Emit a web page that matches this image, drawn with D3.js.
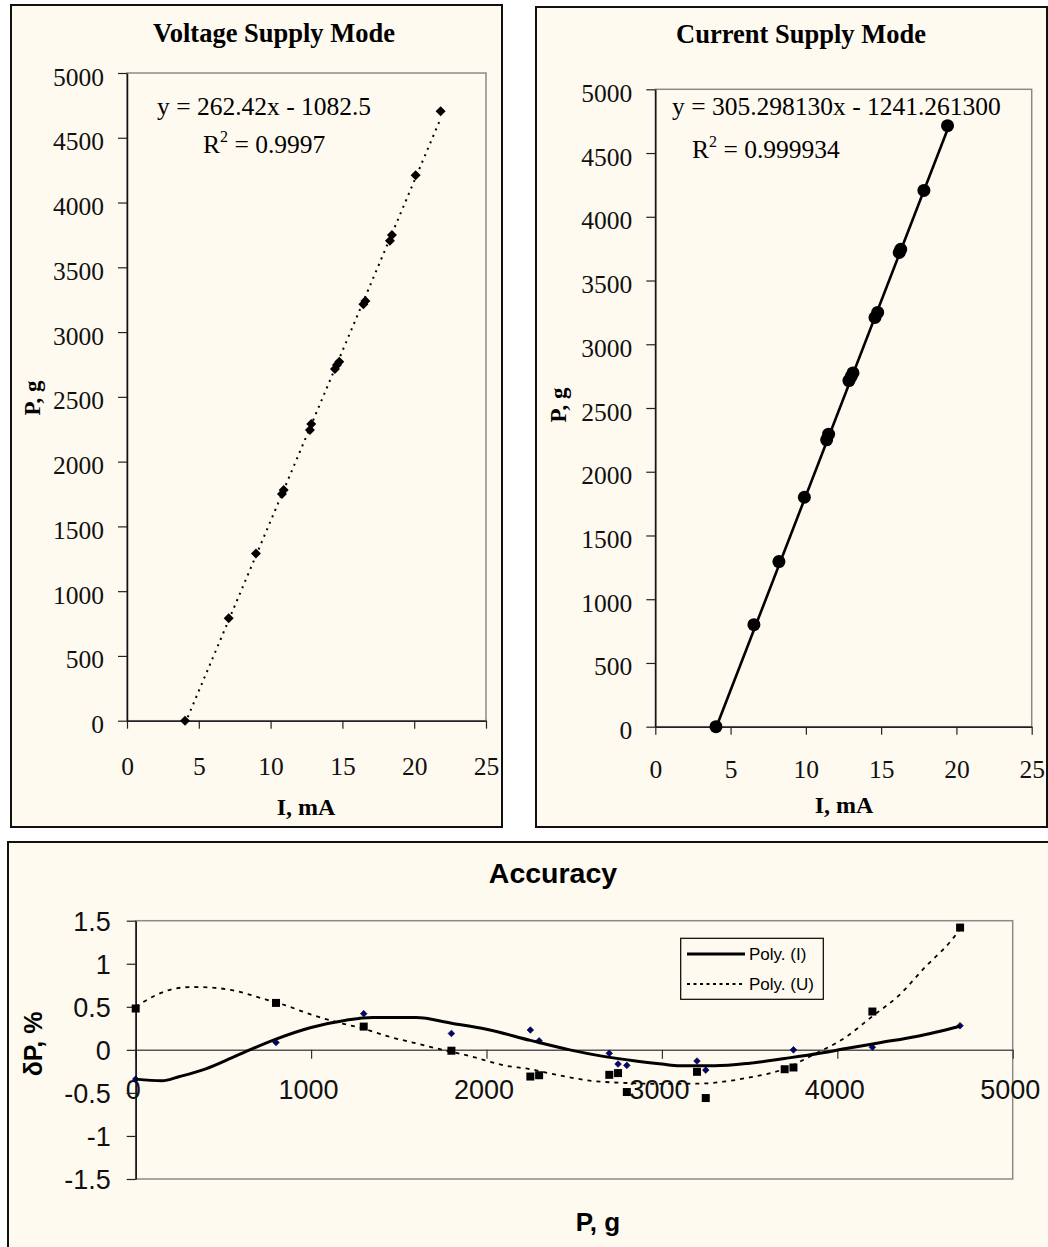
<!DOCTYPE html>
<html>
<head>
<meta charset="utf-8">
<script src="https://cdn.jsdelivr.net/npm/d3@7"></script>
<style>
  body { margin: 0; background: #ffffff; }
  .serif text { font-family: "Liberation Serif", "Times New Roman", serif; }
  .sans text { font-family: "Liberation Sans", Arial, sans-serif; }
</style>
</head>
<body>
<div id="my_dataviz"></div>
<script>
// voltage supply mode: current (mA) vs load (g)
var voltCurrent = [4.04, 7.08, 8.98, 10.79, 10.91, 12.74, 12.83, 14.48, 14.62, 14.78, 16.46, 16.6, 18.31, 18.45, 20.1, 21.84];
var voltLoad = [0, 790, 1290, 1750, 1780, 2245, 2290, 2715, 2745, 2770, 3215, 3240, 3705, 3750, 4210, 4705];
var voltSlope = 262.42, voltIntercept = -1082.5;

// current supply mode
var currCurrent = [4.03, 6.55, 8.21, 9.9, 11.38, 11.51, 12.86, 13.0, 13.13, 14.59, 14.77, 16.2, 16.3, 17.84, 19.41];
var currLoad = [0, 800, 1295, 1800, 2250, 2295, 2715, 2745, 2775, 3210, 3250, 3720, 3745, 4207, 4715];
var currSlope = 305.29813, currIntercept = -1241.2613;

// accuracy: error in % for both modes
var errLoadI = [0, 800, 1300, 1800, 2250, 2300, 2700, 2750, 2800, 3200, 3250, 3750, 4200, 4700];
var errI = [-0.34, 0.085, 0.42, 0.19, 0.23, 0.105, -0.04, -0.165, -0.18, -0.13, -0.235, 0.0, 0.03, 0.28];
var errLoadU = [0, 800, 1300, 1800, 2250, 2300, 2700, 2750, 2800, 3200, 3250, 3700, 3750, 4200, 4700];
var errU = [0.48, 0.545, 0.27, -0.01, -0.31, -0.295, -0.29, -0.27, -0.49, -0.255, -0.56, -0.225, -0.205, 0.445, 1.42];

// polynomial trend lines
var polyLoadI = [0, 150, 250, 400, 550, 650, 800, 1000, 1200, 1350, 1600, 1800, 2000, 2250, 2475, 2650, 2850, 3000, 3100, 3300, 3500, 3700, 3900, 4050, 4250, 4450, 4700];
var polyI = [-0.34, -0.36, -0.31, -0.22, -0.09, 0.0, 0.125, 0.26, 0.345, 0.375, 0.375, 0.31, 0.24, 0.11, 0.0, -0.07, -0.13, -0.165, -0.185, -0.185, -0.155, -0.1, -0.04, 0.015, 0.085, 0.155, 0.275];
var polyLoadU = [0, 100, 200, 320, 450, 570, 700, 850, 1000, 1150, 1300, 1450, 1600, 1750, 1900, 2100, 2250, 2400, 2600, 2800, 3000, 3250, 3350, 3500, 3700, 3850, 4050, 4200, 4350, 4500, 4650, 4700];
var polyU = [0.5, 0.62, 0.7, 0.73, 0.72, 0.685, 0.61, 0.52, 0.41, 0.32, 0.245, 0.15, 0.075, 0.0, -0.07, -0.18, -0.225, -0.29, -0.36, -0.385, -0.395, -0.39, -0.37, -0.32, -0.22, -0.07, 0.15, 0.39, 0.63, 0.96, 1.27, 1.4];

var ticksCurrent = [0, 5, 10, 15, 20, 25];
var ticksLoad = [0, 500, 1000, 1500, 2000, 2500, 3000, 3500, 4000, 4500, 5000];
var ticksLoadAcc = [0, 1000, 2000, 3000, 4000, 5000];
var ticksErr = [-1.5, -1, -0.5, 0, 0.5, 1, 1.5];

var cream = "#fffaf0";

var svg = d3
  .select("#my_dataviz")
  .append("svg")
  .attr("id", "svg")
  .attr("width", 1048)
  .attr("height", 1247);

function zip(a, b) {
  return a.map(function (d, i) {
    return [d, b[i]];
  });
}

// one of the two calibration charts on top
function buildCalib(o) {
  var g = svg.append("g").attr("class", "serif");

  g.append("rect")
    .attr("x", o.box[0])
    .attr("y", o.box[1])
    .attr("width", o.box[2] - o.box[0])
    .attr("height", o.box[3] - o.box[1])
    .attr("fill", cream)
    .attr("stroke", "#111")
    .attr("stroke-width", 2);

  var x = d3.scaleLinear().domain([0, 25]).range([o.plot[0], o.plot[2]]);
  var y = d3.scaleLinear().domain([0, 5000]).range([o.plot[3], o.plot[1]]);

  // plot area border
  g.append("rect")
    .attr("x", o.plot[0])
    .attr("y", o.plot[1])
    .attr("width", o.plot[2] - o.plot[0])
    .attr("height", o.plot[3] - o.plot[1])
    .attr("fill", "none")
    .attr("stroke", "#8a8a8a")
    .attr("stroke-width", 1.5);

  var ax = g
    .append("g")
    .attr("transform", "translate(0," + y(0) + ")")
    .call(d3.axisBottom(x).tickValues(ticksCurrent).tickSize(8).tickSizeOuter(0).tickFormat(d3.format("d")));
  ax.select(".domain").attr("stroke", "#222").attr("stroke-width", 1.5);
  ax.selectAll("line").attr("stroke", "#222").attr("stroke-width", 1.2);
  ax.selectAll("text")
    .attr("y", o.xLabelDy)
    .attr("dy", null)
    .attr("fill", "#111")
    .style("font-size", "25.5px");

  var ay = g
    .append("g")
    .attr("transform", "translate(" + x(0) + ",0)")
    .call(d3.axisLeft(y).tickValues(ticksLoad).tickSize(9).tickSizeOuter(0).tickPadding(14).tickFormat(d3.format("d")));
  ay.select(".domain").attr("stroke", "#111").attr("stroke-width", 1.5);
  ay.selectAll("line").attr("stroke", "#222").attr("stroke-width", 1.2);
  ay.selectAll("text")
    .attr("dy", "0.47em")
    .attr("fill", "#111")
    .style("font-size", "25.5px");

  // titles
  g.append("text")
    .attr("x", o.title[0])
    .attr("y", o.title[1])
    .attr("text-anchor", "middle")
    .style("font-size", "26.5px")
    .style("font-weight", "bold")
    .text(o.titleText);

  g.append("text")
    .attr("x", o.xTitle[0])
    .attr("y", o.xTitle[1])
    .attr("text-anchor", "middle")
    .style("font-size", "24px")
    .style("font-weight", "bold")
    .text("I, mA");

  g.append("text")
    .attr("transform", "translate(" + o.yTitle[0] + "," + o.yTitle[1] + ")rotate(-90)")
    .attr("text-anchor", "middle")
    .style("font-size", "23px")
    .style("font-weight", "bold")
    .text("P, g");

  // trend line
  var i0 = d3.min(o.xs), i1 = d3.max(o.xs);
  g.append("path")
    .datum([i0, i1])
    .attr("fill", "none")
    .attr("stroke", "#000")
    .attr("stroke-width", o.lineWidth)
    .attr("stroke-dasharray", o.dash)
    .attr("d", d3.line()
      .x(function (d) { return x(d); })
      .y(function (d) { return y(o.slope * d + o.intercept); }));

  // points
  if (o.marker == "diamond") {
    g.selectAll(".pt")
      .data(zip(o.xs, o.ys))
      .enter()
      .append("path")
      .attr("class", "pt")
      .attr("d", d3.symbol(d3.symbolSquare, 50))
      .attr("transform", function (d) {
        return "translate(" + x(d[0]) + "," + y(d[1]) + ")rotate(45)";
      })
      .attr("fill", "#000");
  } else {
    g.selectAll(".pt")
      .data(zip(o.xs, o.ys))
      .enter()
      .append("circle")
      .attr("class", "pt")
      .attr("cx", function (d) { return x(d[0]); })
      .attr("cy", function (d) { return y(d[1]); })
      .attr("r", 6.5)
      .attr("fill", "#000");
  }

  // equation and R^2
  g.append("text")
    .attr("x", o.eq[0])
    .attr("y", o.eq[1])
    .style("font-size", "25.5px")
    .text(o.eqText);

  var r2 = g.append("text")
    .attr("x", o.r2[0])
    .attr("y", o.r2[1])
    .style("font-size", "25.5px");
  r2.append("tspan").text("R");
  r2.append("tspan").attr("dy", -11).style("font-size", "16px").text("2");
  r2.append("tspan").attr("dy", 11).text(" = " + o.r2Text);
}

buildCalib({
  box: [11, 5, 502, 827],
  plot: [127, 73, 486, 720.7],
  xLabelDy: 54,
  titleText: "Voltage Supply Mode",
  title: [274, 42],
  xTitle: [306, 815],
  yTitle: [40, 398],
  xs: voltCurrent,
  ys: voltLoad,
  slope: voltSlope,
  intercept: voltIntercept,
  lineWidth: 2,
  dash: "2,5",
  marker: "diamond",
  eqText: "y = 262.42x - 1082.5",
  eq: [157, 115],
  r2Text: "0.9997",
  r2: [203, 153]
});

buildCalib({
  box: [536, 7, 1047, 827],
  plot: [655.3, 89.3, 1031.7, 726.7],
  xLabelDy: 51,
  titleText: "Current Supply Mode",
  title: [801, 43],
  xTitle: [844, 813],
  yTitle: [566, 405],
  xs: currCurrent,
  ys: currLoad,
  slope: currSlope,
  intercept: currIntercept,
  lineWidth: 2.6,
  dash: null,
  marker: "circle",
  eqText: "y = 305.298130x - 1241.261300",
  eq: [672, 115],
  r2Text: "0.999934",
  r2: [692, 158]
});

// accuracy chart
var acc = svg.append("g").attr("class", "sans");

acc.append("rect")
  .attr("x", 8)
  .attr("y", 842)
  .attr("width", 1100)
  .attr("height", 500)
  .attr("fill", cream)
  .attr("stroke", "#111")
  .attr("stroke-width", 2);

var xA = d3.scaleLinear().domain([0, 5000]).range([135.7, 1012.7]);
var yA = d3.scaleLinear().domain([-1.5, 1.5]).range([1179, 920.7]);

acc.append("rect")
  .attr("x", xA(0))
  .attr("y", yA(1.5))
  .attr("width", xA(5000) - xA(0))
  .attr("height", yA(-1.5) - yA(1.5))
  .attr("fill", "none")
  .attr("stroke", "#8a8a8a")
  .attr("stroke-width", 1.5);

var axA = acc
  .append("g")
  .attr("transform", "translate(0," + yA(0) + ")")
  .call(d3.axisBottom(xA).tickValues(ticksLoadAcc).tickSize(9).tickSizeOuter(0).tickFormat(d3.format("d")));
axA.select(".domain").attr("stroke", "#555").attr("stroke-width", 1.5);
axA.selectAll("line").attr("stroke", "#333").attr("stroke-width", 1.2);
axA.selectAll("text")
  .attr("y", 49)
  .attr("dy", null)
  .attr("x", -3)
  .attr("fill", "#111")
  .style("font-size", "27px");

var ayA = acc
  .append("g")
  .attr("transform", "translate(" + xA(0) + ",0)")
  .call(d3.axisLeft(yA).tickValues(ticksErr).tickSize(9).tickSizeOuter(0).tickPadding(16).tickFormat(function (d) { return String(d); }));
ayA.select(".domain").attr("stroke", "#111").attr("stroke-width", 1.5);
ayA.selectAll("line").attr("stroke", "#222").attr("stroke-width", 1.2);
ayA.selectAll("text")
  .attr("dy", "0.35em")
  .attr("fill", "#111")
  .style("font-size", "27px");

acc.append("text")
  .attr("x", 553)
  .attr("y", 883)
  .attr("text-anchor", "middle")
  .style("font-size", "28.5px")
  .style("font-weight", "bold")
  .text("Accuracy");

acc.append("text")
  .attr("x", 598)
  .attr("y", 1231)
  .attr("text-anchor", "middle")
  .style("font-size", "26px")
  .style("font-weight", "bold")
  .text("P, g");

acc.append("text")
  .attr("transform", "translate(42,1044)rotate(-90)")
  .attr("text-anchor", "middle")
  .style("font-size", "25px")
  .style("font-weight", "bold")
  .text("δP, %");

// markers
acc.selectAll(".sq")
  .data(zip(errLoadU, errU))
  .enter()
  .append("path")
  .attr("class", "sq")
  .attr("d", d3.symbol(d3.symbolSquare, 64))
  .attr("transform", function (d) {
    return "translate(" + xA(d[0]) + "," + yA(d[1]) + ")";
  })
  .attr("fill", "#000");

acc.selectAll(".dm")
  .data(zip(errLoadI, errI))
  .enter()
  .append("path")
  .attr("class", "dm")
  .attr("d", d3.symbol(d3.symbolSquare, 22))
  .attr("transform", function (d) {
    return "translate(" + xA(d[0]) + "," + yA(d[1]) + ")rotate(45)";
  })
  .attr("fill", "#000080")
  .attr("stroke", "#000")
  .attr("stroke-width", 0.6);

var trend = d3.line()
  .curve(d3.curveMonotoneX)
  .x(function (d) { return xA(d[0]); })
  .y(function (d) { return yA(d[1]); });

acc.append("path")
  .datum(zip(polyLoadU, polyU))
  .attr("fill", "none")
  .attr("stroke", "#000")
  .attr("stroke-width", 1.8)
  .attr("stroke-dasharray", "4,5")
  .attr("d", trend);

acc.append("path")
  .datum(zip(polyLoadI, polyI))
  .attr("fill", "none")
  .attr("stroke", "#000")
  .attr("stroke-width", 3)
  .attr("d", trend);

// legend
var leg = acc.append("g");
leg.append("rect")
  .attr("x", 680.7)
  .attr("y", 938.3)
  .attr("width", 142.6)
  .attr("height", 61)
  .attr("fill", cream)
  .attr("stroke", "#000")
  .attr("stroke-width", 1.2);

var legItems = [
  { label: "Poly. (I)", dash: null, w: 3 },
  { label: "Poly. (U)", dash: "3,3.5", w: 2 }
];
legItems.forEach(function (d, i) {
  var ly = 954 + i * 30;
  leg.append("line")
    .attr("x1", 687)
    .attr("x2", 745)
    .attr("y1", ly)
    .attr("y2", ly)
    .attr("stroke", "#000")
    .attr("stroke-width", d.w)
    .attr("stroke-dasharray", d.dash);
  leg.append("text")
    .attr("x", 749)
    .attr("y", ly)
    .attr("dy", "0.36em")
    .style("font-size", "17px")
    .text(d.label);
});
</script>
</body>
</html>
